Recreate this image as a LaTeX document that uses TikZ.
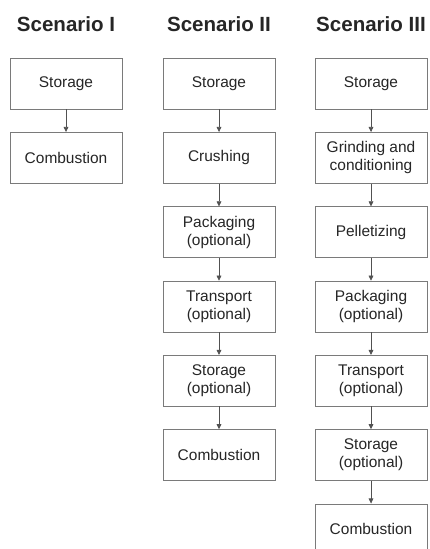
\documentclass[tikz,border=0pt]{standalone}
\usepackage{fontspec}
\setmainfont{Liberation Sans}
\usetikzlibrary{arrows.meta,positioning}
\definecolor{boxline}{HTML}{7A7A7A}
\definecolor{txtgray}{HTML}{262626}

\begin{document}
\begin{tikzpicture}[x=0.75pt,y=-0.75pt,
    stage/.style={draw=boxline, fill=white, minimum width=84pt, minimum height=38.25pt,
        inner sep=0pt, align=center, text=txtgray, font=\fontsize{11.6}{13.5}\selectfont},
    heading/.style={anchor=base, text=txtgray, font=\fontsize{15.4}{18}\selectfont\bfseries},
    flow/.style={draw=txtgray!80, line width=0.5pt, -{Triangle[length=3.8pt,width=3.6pt]}}]
    \useasboundingbox (0,0) rectangle (429,549);
    \clip (0,0) rectangle (429,549);

    % Scenario I
    \node[heading] (h1) at (66,32) {Scenario I};
    \foreach \n/\txt [count=\i from 0] in {a/{Storage}, b/{Combustion}}
        \node[stage] (s1\n) at (66,83.5+74.3*\i) {\txt};
    \draw[flow] (s1a) -- (s1b);

    % Scenario II
    \node[heading] (h2) at (219,32) {Scenario II};
    \foreach \n/\txt [count=\i from 0] in {a/{Storage}, b/{Crushing}, c/{Packaging\\(optional)},
        d/{Transport\\(optional)}, e/{Storage\\(optional)}, f/{Combustion}}
        \node[stage] (s2\n) at (219,83.5+74.3*\i) {\txt};
    \foreach \p/\q in {a/b, b/c, c/d, d/e, e/f}
        \draw[flow] (s2\p) -- (s2\q);

    % Scenario III
    \node[heading] (h3) at (371,32) {Scenario III};
    \foreach \n/\txt [count=\i from 0] in {a/{Storage}, b/{Grinding and\\conditioning}, c/{Pelletizing},
        d/{Packaging\\(optional)}, e/{Transport\\(optional)}, f/{Storage\\(optional)}, g/{Combustion}}
        \node[stage] (s3\n) at (371,83.5+74.3*\i) {\txt};
    \foreach \p/\q in {a/b, b/c, c/d, d/e, e/f, f/g}
        \draw[flow] (s3\p) -- (s3\q);
\end{tikzpicture}
\end{document}
